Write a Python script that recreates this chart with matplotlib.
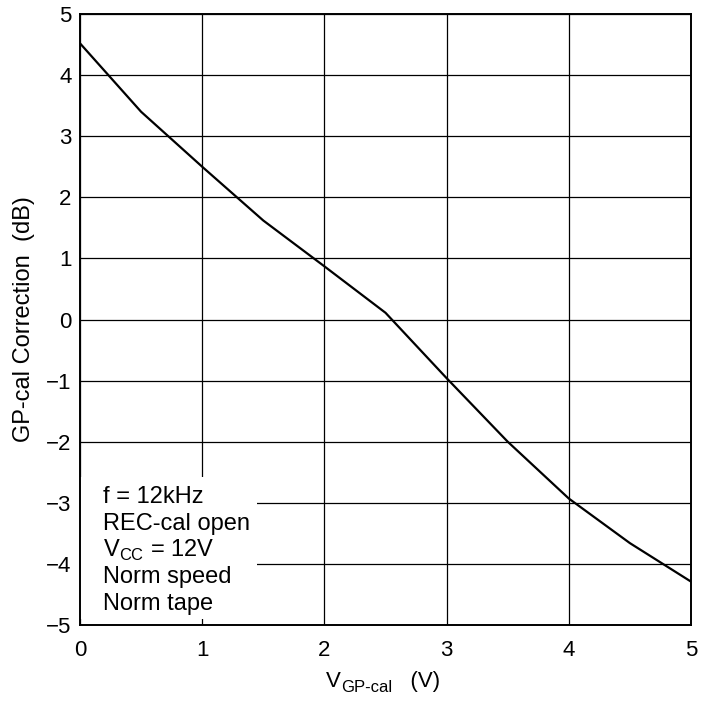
import matplotlib.pyplot as plt
from matplotlib.patches import Rectangle

plt.rcParams['font.family'] = ['Liberation Sans', 'DejaVu Sans']

# curve
v_gp = [0, 0.5, 1, 1.5, 2, 2.5, 3, 3.5, 4, 4.5, 5]
correction = [4.52, 3.4, 2.5, 1.62, 0.87, 0.11, -0.96, -2.0, -2.93, -3.66, -4.29]

x_ticks = [0, 1, 2, 3, 4, 5]
y_ticks = [5, 4, 3, 2, 1, 0, -1, -2, -3, -4, -5]

fig = plt.figure(figsize=(7.01, 7.02), dpi=100)
ax = fig.add_axes([80/701, 1 - 625/702, 611/701, 611/702])

ax.plot(v_gp, correction, color='black', lw=1.6, zorder=4)

ax.set_xlim(0, 5)
ax.set_ylim(-5, 5)
ax.set_xticks(x_ticks)
ax.set_yticks(y_ticks)
ax.set_yticklabels([str(t).replace('-', '\u2212') for t in y_ticks])
ax.tick_params(length=0, labelsize=16)
ax.tick_params(axis='x', pad=11)
ax.tick_params(axis='y', pad=6)
ax.grid(True, color='black', lw=0.9)
for s in ax.spines.values():
    s.set_linewidth(1.4)
    s.set_zorder(6)

# white box for the conditions note
ax.add_patch(Rectangle((0, -4.9), 1.45, 2.32, facecolor='white', edgecolor='none', zorder=3))
notes = ['f = 12kHz', 'REC-cal open', 'V$_{\\mathregular{CC}}$ = 12V', 'Norm speed', 'Norm tape']
for i, s in enumerate(notes):
    ax.text(0.19, -3.0 - i * 0.44, s, fontsize=17, va='baseline', zorder=5)

# x label built from pieces so the subscript keeps a hyphen
t1 = fig.text(326/701, 1 - 687/702, 'V', fontsize=16, va='baseline', ha='left')
t2 = ax.annotate('GP-cal', xy=(1, 702 - 692), xycoords=(t1, 'figure pixels'),
                 fontsize=12, va='baseline', ha='left', annotation_clip=False)
ax.annotate('   (V)', xy=(1, 702 - 687), xycoords=(t2, 'figure pixels'),
            fontsize=16, va='baseline', ha='left', annotation_clip=False)

ax.set_ylabel('GP-cal Correction  (dB)', fontsize=17, labelpad=8)

plt.savefig('out.png', dpi=100)
